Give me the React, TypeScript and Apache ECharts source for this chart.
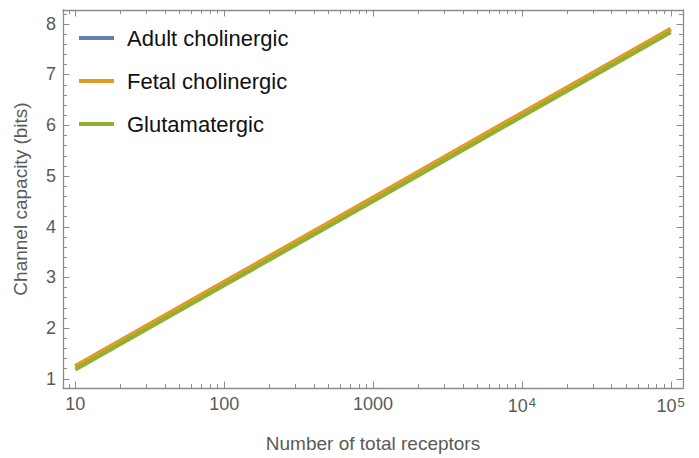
import React, { useEffect, useRef } from "react";
import * as echarts from "echarts";

const receptors = [10, 100, 1000, 10000, 100000];
const adult = [1.24, 2.90, 4.56, 6.23, 7.89];
const fetal = [1.25, 2.91, 4.57, 6.24, 7.90];
const glutamatergic = [1.18, 2.84, 4.50, 6.17, 7.83];
const seriesNames = ["Adult cholinergic", "Fetal cholinergic", "Glutamatergic"];
const colors = ["#5e81b5", "#e19c24", "#8fb032"];
const xMajor = [10, 100, 1000, 10000, 100000];
const xMinor = [9, 20, 30, 40, 50, 60, 70, 80, 90, 200, 300, 400, 500, 600, 700, 800, 900, 2000, 3000, 4000, 5000, 6000, 7000, 8000, 9000, 20000, 30000, 40000, 50000, 60000, 70000, 80000, 90000];
const yMajor = [1, 2, 3, 4, 5, 6, 7, 8];
const yMinor = [1.2, 1.4, 1.6, 1.8, 2.2, 2.4, 2.6, 2.8, 3.2, 3.4, 3.6, 3.8, 4.2, 4.4, 4.6, 4.8, 5.2, 5.4, 5.6, 5.8, 6.2, 6.4, 6.6, 6.8, 7.2, 7.4, 7.6, 7.8, 8.2];

const X_MIN = 8.26;
const X_MAX = 121000;
const Y_MIN = 0.815;
const Y_MAX = 8.27;
const FRAME = "#8c8c8c";
const TICK = "#8c8c8c";
const LABEL = "#5a5a5a";
const FONT = "Liberation Sans, Arial, sans-serif";
const MAJOR_LEN = 6.5;
const MINOR_LEN = 4;

function xLabel(v: number) {
  const e = Math.round(Math.log10(v));
  if (e <= 3) return `{n|${Math.round(v)}}`;
  return `{b|10}{s|${e}}`;
}

export default function App() {
  const ref = useRef<HTMLDivElement>(null);
  useEffect(() => {
    const chart = echarts.init(ref.current!, undefined, { renderer: "svg" });
    const pairs = (ys: number[]) => receptors.map((x, i) => [x, ys[i]]);

    const xAxisCommon = {
      type: "log",
      min: X_MIN,
      max: X_MAX,
      logBase: 10,
      axisLine: { show: true, lineStyle: { color: FRAME, width: 1.3 } },
      axisTick: { show: false },
      splitLine: { show: false },
      minorTick: { show: false },
    };
    const yAxisCommon = {
      type: "value",
      min: Y_MIN,
      max: Y_MAX,
      axisLine: { show: true, lineStyle: { color: FRAME, width: 1.3 } },
      axisTick: { show: false },
      splitLine: { show: false },
    };

    chart.setOption({
      animation: false,
      backgroundColor: "#ffffff",
      grid: { left: 63, top: 10, right: 16, bottom: 65, containLabel: false },
      xAxis: [
        {
          ...xAxisCommon,
          position: "bottom",
          name: "Number of total receptors",
          nameLocation: "middle",
          nameGap: 46,
          nameTextStyle: { color: LABEL, fontSize: 19, fontFamily: FONT },
          axisLabel: {
            show: true,
            customValues: xMajor,
            margin: 6,
            formatter: xLabel,
            rich: {
              n: { fontSize: 18, color: LABEL, fontFamily: FONT, lineHeight: 20 },
              b: { fontSize: 18, color: LABEL, fontFamily: FONT, lineHeight: 20, padding: [4, 0, 0, 0] },
              s: { fontSize: 13, color: LABEL, fontFamily: FONT, lineHeight: 15, verticalAlign: "top", padding: [2, 0, 0, 1] },
            },
          },
        },
        { ...xAxisCommon, position: "top", axisLabel: { show: false } },
      ],
      yAxis: [
        {
          ...yAxisCommon,
          position: "left",
          name: "Channel capacity (bits)",
          nameLocation: "middle",
          nameGap: 33,
          nameTextStyle: { color: LABEL, fontSize: 19, fontFamily: FONT },
          axisLabel: { show: true, customValues: yMajor, color: LABEL, fontSize: 18, fontFamily: FONT, margin: 7 },
        },
        { ...yAxisCommon, position: "right", axisLabel: { show: false } },
      ],
      legend: {
        orient: "vertical",
        left: 79,
        top: 25,
        padding: 0,
        itemWidth: 35,
        itemHeight: 4,
        itemGap: 17,
        icon: "rect",
        data: seriesNames,
        textStyle: { color: "#111", fontSize: 22, fontFamily: FONT, lineHeight: 26, padding: [0, 0, 0, 8] },
      },
      series: [adult, fetal, glutamatergic].map((ys, i) => ({
        name: seriesNames[i],
        type: "line",
        xAxisIndex: 0,
        yAxisIndex: 0,
        data: pairs(ys),
        showSymbol: false,
        symbol: "none",
        lineStyle: { color: colors[i], width: 4 },
        itemStyle: { color: colors[i] },
        z: 2 + i,
      })),
    });

    // Frame ticks, positioned through the chart's own scales
    const finder = { xAxisIndex: 0, yAxisIndex: 0 };
    const crisp = (p: number) => Math.round(p) + 0.5;
    const tickEls: any[] = [];
    const tickStyle = { stroke: TICK, lineWidth: 1 };
    const addX = (v: number, len: number) => {
      const b = chart.convertToPixel(finder, [v, Y_MIN]) as number[];
      const t = chart.convertToPixel(finder, [v, Y_MAX]) as number[];
      const xb = crisp(b[0]);
      tickEls.push({ type: "line", silent: true, z: 10, shape: { x1: xb, y1: b[1], x2: xb, y2: b[1] - len }, style: tickStyle });
      tickEls.push({ type: "line", silent: true, z: 10, shape: { x1: xb, y1: t[1], x2: xb, y2: t[1] + len }, style: tickStyle });
    };
    const addY = (v: number, len: number) => {
      const l = chart.convertToPixel(finder, [X_MIN, v]) as number[];
      const r = chart.convertToPixel(finder, [X_MAX, v]) as number[];
      const yl = crisp(l[1]);
      tickEls.push({ type: "line", silent: true, z: 10, shape: { x1: l[0], y1: yl, x2: l[0] + len, y2: yl }, style: tickStyle });
      tickEls.push({ type: "line", silent: true, z: 10, shape: { x1: r[0], y1: yl, x2: r[0] - len, y2: yl }, style: tickStyle });
    };
    xMajor.forEach((v) => addX(v, MAJOR_LEN));
    xMinor.forEach((v) => addX(v, MINOR_LEN));
    yMajor.forEach((v) => addY(v, MAJOR_LEN));
    yMinor.forEach((v) => addY(v, MINOR_LEN));
    chart.setOption({ graphic: { elements: tickEls } });

    return () => chart.dispose();
  }, []);
  return (
    <div
      ref={ref}
      style={{ position: "absolute", left: 0, top: 0, width: 699, height: 458 }}
    />
  );
}
